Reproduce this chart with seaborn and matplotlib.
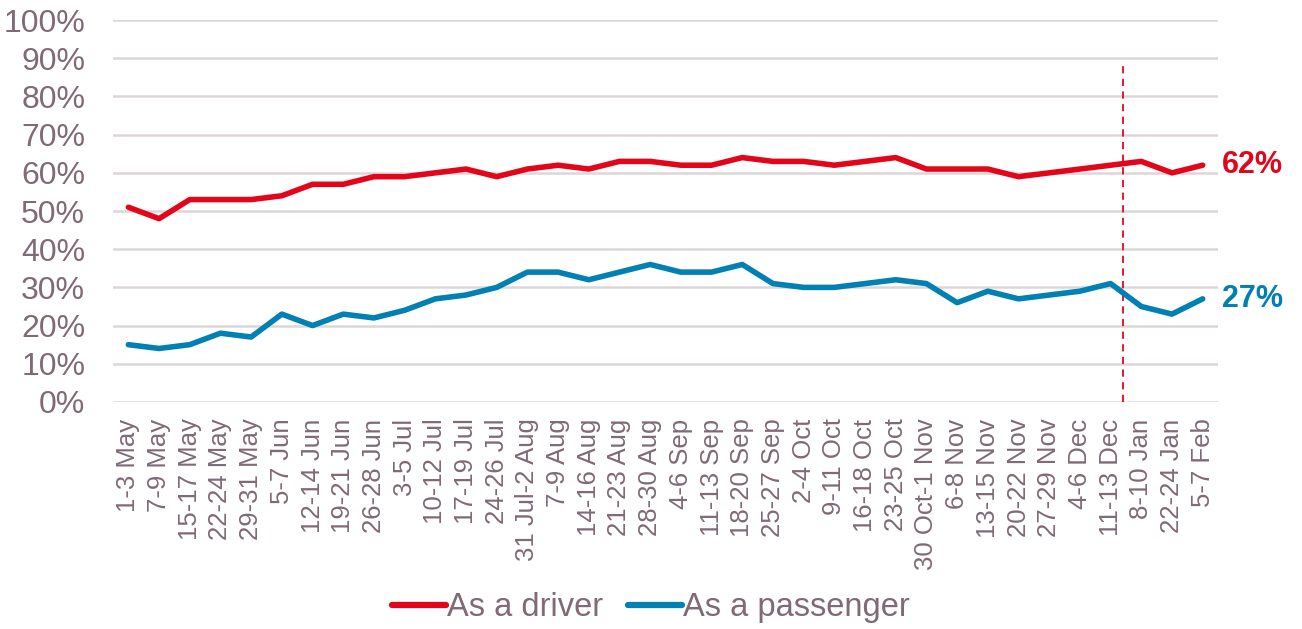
import matplotlib
matplotlib.use("Agg")
import matplotlib.pyplot as plt
import seaborn as sns
import pandas as pd

# survey waves and shares (%)
periods = [
    "1-3 May", "7-9 May", "15-17 May", "22-24 May", "29-31 May", "5-7 Jun",
    "12-14 Jun", "19-21 Jun", "26-28 Jun", "3-5 Jul", "10-12 Jul", "17-19 Jul",
    "24-26 Jul", "31 Jul-2 Aug", "7-9 Aug", "14-16 Aug", "21-23 Aug", "28-30 Aug",
    "4-6 Sep", "11-13 Sep", "18-20 Sep", "25-27 Sep", "2-4 Oct", "9-11 Oct",
    "16-18 Oct", "23-25 Oct", "30 Oct-1 Nov", "6-8 Nov", "13-15 Nov", "20-22 Nov",
    "27-29 Nov", "4-6 Dec", "11-13 Dec", "8-10 Jan", "22-24 Jan", "5-7 Feb",
]
driver = [51, 48, 53, 53, 53, 54, 57, 57, 59, 59, 60, 61, 59, 61, 62, 61, 63, 63,
          62, 62, 64, 63, 63, 62, 63, 64, 61, 61, 61, 59, 60, 61, 62, 63, 60, 62]
passenger = [15, 14, 15, 18, 17, 23, 20, 23, 22, 24, 27, 28, 30, 34, 34, 32, 34, 36,
             34, 34, 36, 31, 30, 30, 31, 32, 31, 26, 29, 27, 28, 29, 31, 25, 23, 27]
series_names = ["As a driver", "As a passenger"]
y_ticks = [0, 10, 20, 30, 40, 50, 60, 70, 80, 90, 100]

RED = "#E3061A"
BLUE = "#0080B3"
TEXT = "#7F6A76"
GRID = "#DDD6D9"

df = pd.DataFrame({
    "period": periods * 2,
    "idx": list(range(len(periods))) * 2,
    "share": driver + passenger,
    "series": [series_names[0]] * len(periods) + [series_names[1]] * len(periods),
})

sns.set_style("white")
plt.rcParams["font.family"] = ["Liberation Sans", "DejaVu Sans"]

fig = plt.figure(figsize=(13.02, 6.29), dpi=100)
ax = fig.add_axes([0.0868, 0.361, 0.8487, 0.607])

sns.lineplot(data=df, x="idx", y="share", hue="series",
             palette=[RED, BLUE], linewidth=4.0, ax=ax)

ax.set_xlim(-0.5, len(periods) - 0.5)
ax.set_ylim(0, 100)
ax.set_yticks(y_ticks)
ax.set_yticklabels([f"{t}%" for t in y_ticks], fontsize=23, color=TEXT)
ax.set_xticks(range(len(periods)))
ax.set_xticklabels(periods, rotation=90, fontsize=18.5, color=TEXT)
ax.tick_params(axis="x", length=0, pad=12)
ax.tick_params(axis="y", length=0, pad=20)
ax.yaxis.grid(True, color=GRID, linewidth=1.8)
ax.set_axisbelow(True)
for s in ax.spines.values():
    s.set_visible(False)
ax.set_xlabel("")
ax.set_ylabel("")

# break between Dec and Jan waves
ax.plot([32.4, 32.4], [0, 88], color=RED, linestyle=(0, (4, 3)), linewidth=1.3, zorder=1)

# end labels
last = len(periods) - 1
ax.annotate(f"{driver[-1]}%", (last, driver[-1]), xytext=(14, 0), textcoords="offset points",
            va="center", ha="left", color=RED, fontsize=22, fontweight="bold",
            annotation_clip=False)
ax.annotate(f"{passenger[-1]}%", (last, passenger[-1]), xytext=(14, 0), textcoords="offset points",
            va="center", ha="left", color=BLUE, fontsize=22, fontweight="bold",
            annotation_clip=False)

handles, labels = ax.get_legend_handles_labels()
for h in handles:
    h.set_linewidth(4.5)
ax.legend(handles, labels, loc="lower center", bbox_to_anchor=(0.5, -0.012),
          bbox_transform=fig.transFigure, ncol=2, frameon=False,
          fontsize=23.5, labelcolor=TEXT, handlelength=1.65, handletextpad=0.05,
          columnspacing=0.75, borderaxespad=0.0)

fig.savefig("out.png", dpi=100)
